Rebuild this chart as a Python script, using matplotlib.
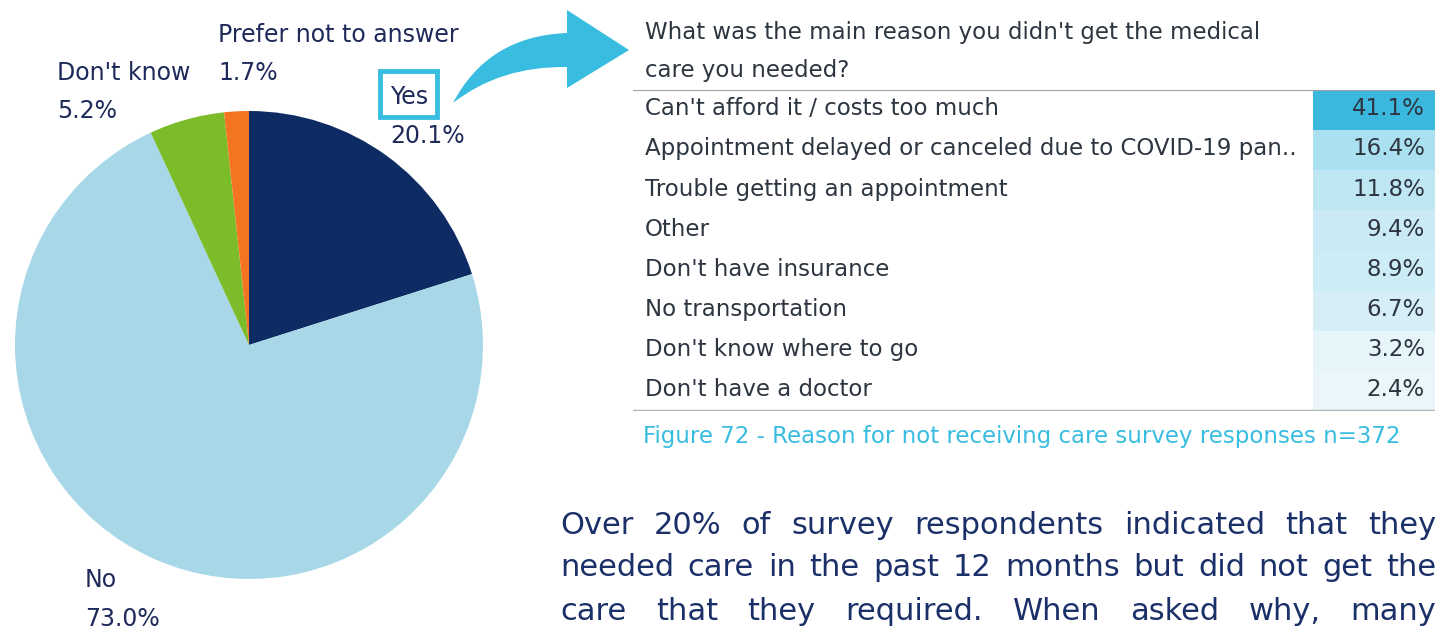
#
########################################################################
# Libraries
########################################################################
#
import numpy as np
import matplotlib
matplotlib.use("Agg")
from matplotlib import pyplot as plt
from matplotlib.path import Path
from matplotlib.patches import PathPatch, Rectangle
from matplotlib.colors import LinearSegmentedColormap, Normalize

#
########################################################################
# Data
########################################################################
#
PieLabels = ["Yes", "No", "Don't know", "Prefer not to answer"]
PieValues = [20.1, 73.0, 5.2, 1.7]
PieColors = ["#0E2B63", "#A8D8E8", "#7CBC2B", "#F47421"]

Reasons = ["Can't afford it / costs too much",
           "Appointment delayed or canceled due to COVID-19 pan..",
           "Trouble getting an appointment",
           "Other",
           "Don't have insurance",
           "No transportation",
           "Don't know where to go",
           "Don't have a doctor"]
ReasonValues = [41.1, 16.4, 11.8, 9.4, 8.9, 6.7, 3.2, 2.4]

Question = ["What was the main reason you didn't get the medical",
            "care you needed?"]
Caption = "Figure 72 - Reason for not receiving care survey responses n=372"
Paragraph = ["Over 20% of survey respondents indicated that they",
             "needed care in the past 12 months but did not get the",
             "care that they required. When asked why, many"]

#
########################################################################
# General settings
########################################################################
#
W, H = 1441, 632
Cyan = "#38BDE0"
Navy = "#1E2A5A"
TableInk = "#2D3540"
TextInk = "#1B3068"
Font = ["DejaVu Sans"]

Figure = plt.figure(figsize=(W / 100, H / 100), dpi=100)
Figure.patch.set_facecolor("white")

def box(x0, y0, x1, y1):
    # pixel box (top-left origin) -> figure fraction
    return [x0 / W, 1 - y1 / H, (x1 - x0) / W, (y1 - y0) / H]

#
########################################################################
# Pie
########################################################################
#
AxPie = Figure.add_axes(box(15, 111, 483, 579))
AxPie.pie(PieValues, colors=PieColors, startangle=90, counterclock=False,
          radius=1, wedgeprops=dict(linewidth=0))
AxPie.set_xlim(-1, 1)
AxPie.set_ylim(-1, 1)
AxPie.axis("off")

#
########################################################################
# Overlay in pixel units (labels, arrow, texts)
########################################################################
#
Ax = Figure.add_axes([0, 0, 1, 1], zorder=5)
Ax.set_xlim(0, W)
Ax.set_ylim(H, 0)
Ax.axis("off")
Ax.patch.set_alpha(0)

LabelPos = {"Yes": (390, 97, 136), "No": (85, 580, 619),
            "Don't know": (57, 73, 111), "Prefer not to answer": (218, 35, 73)}
for Name, Value in zip(PieLabels, PieValues):
    x, y1, y2 = LabelPos[Name]
    Ax.text(x, y1, Name, fontsize=17, color=Navy, family=Font,
            va="center", ha="left")
    Ax.text(x, y2, f"{Value:.1f}%", fontsize=17, color=Navy,
            family=Font, va="center", ha="left")

# box around "Yes"
Ax.add_patch(Rectangle((380, 71), 57, 46, fill=False, edgecolor=Cyan,
                       linewidth=3.5))

# curved arrow towards the table
Verts = [(453, 103), (488, 36), (567, 33),
         (567, 10), (629, 50), (567, 88), (567, 67),
         (500, 66), (453, 103)]
Codes = [Path.MOVETO, Path.CURVE3, Path.CURVE3,
         Path.LINETO, Path.LINETO, Path.LINETO, Path.LINETO,
         Path.CURVE3, Path.CURVE3]
Ax.add_patch(PathPatch(Path(Verts, Codes), facecolor=Cyan, edgecolor="none"))

# question header
for i, Line in enumerate(Question):
    Ax.text(645, 33 + 38 * i, Line, fontsize=16.5, color=TableInk,
            family=Font, va="center", ha="left")

Ax.text(643, 436, Caption, fontsize=16.5, color=Cyan, family=Font,
        va="center", ha="left")

#
########################################################################
# Table
########################################################################
#
AxTab = Figure.add_axes(box(633, 90, 1435, 411), zorder=3)
AxTab.set_xlim(0, 802)
AxTab.set_ylim(len(Reasons), 0)
AxTab.axis("off")

Rows = np.arange(len(Reasons)) + 0.5
Mapa = LinearSegmentedColormap.from_list("blues", ["#F4FAFC", "#3AB8DE"])
Norma = Normalize(0, max(ReasonValues))
AxTab.barh(Rows, [122] * len(Rows), left=680, height=1.0,
           color=[Mapa(Norma(v)) for v in ReasonValues], linewidth=0)

for r, Name, Value in zip(Rows, Reasons, ReasonValues):
    AxTab.text(12, r - 0.03, Name, fontsize=16.5, color=TableInk,
               family=Font, va="center", ha="left")
    AxTab.text(792, r - 0.03, f"{Value:.1f}%", fontsize=16.5, color=TableInk,
               family=Font, va="center", ha="right")

AxTab.axhline(0, color="#A0A0A0", linewidth=1.5)
AxTab.axhline(len(Reasons), color="#B5B5B5", linewidth=2.5)

#
########################################################################
# Justified paragraph
########################################################################
#
Renderer = Figure.canvas.get_renderer()
Left, Right = 560, 1436
for i, Line in enumerate(Paragraph):
    Words = Line.split()
    Items = [Ax.text(0, 525 + 43 * i, w, fontsize=22, color=TextInk,
                     family=Font, va="center", ha="left")
             for w in Words]
    Widths = [t.get_window_extent(Renderer).width for t in Items]
    Gap = (Right - Left - sum(Widths)) / (len(Words) - 1)
    x = Left
    for t, w in zip(Items, Widths):
        t.set_x(x)
        x += w + Gap

Figure.savefig("out.png", dpi=100, facecolor="white")
